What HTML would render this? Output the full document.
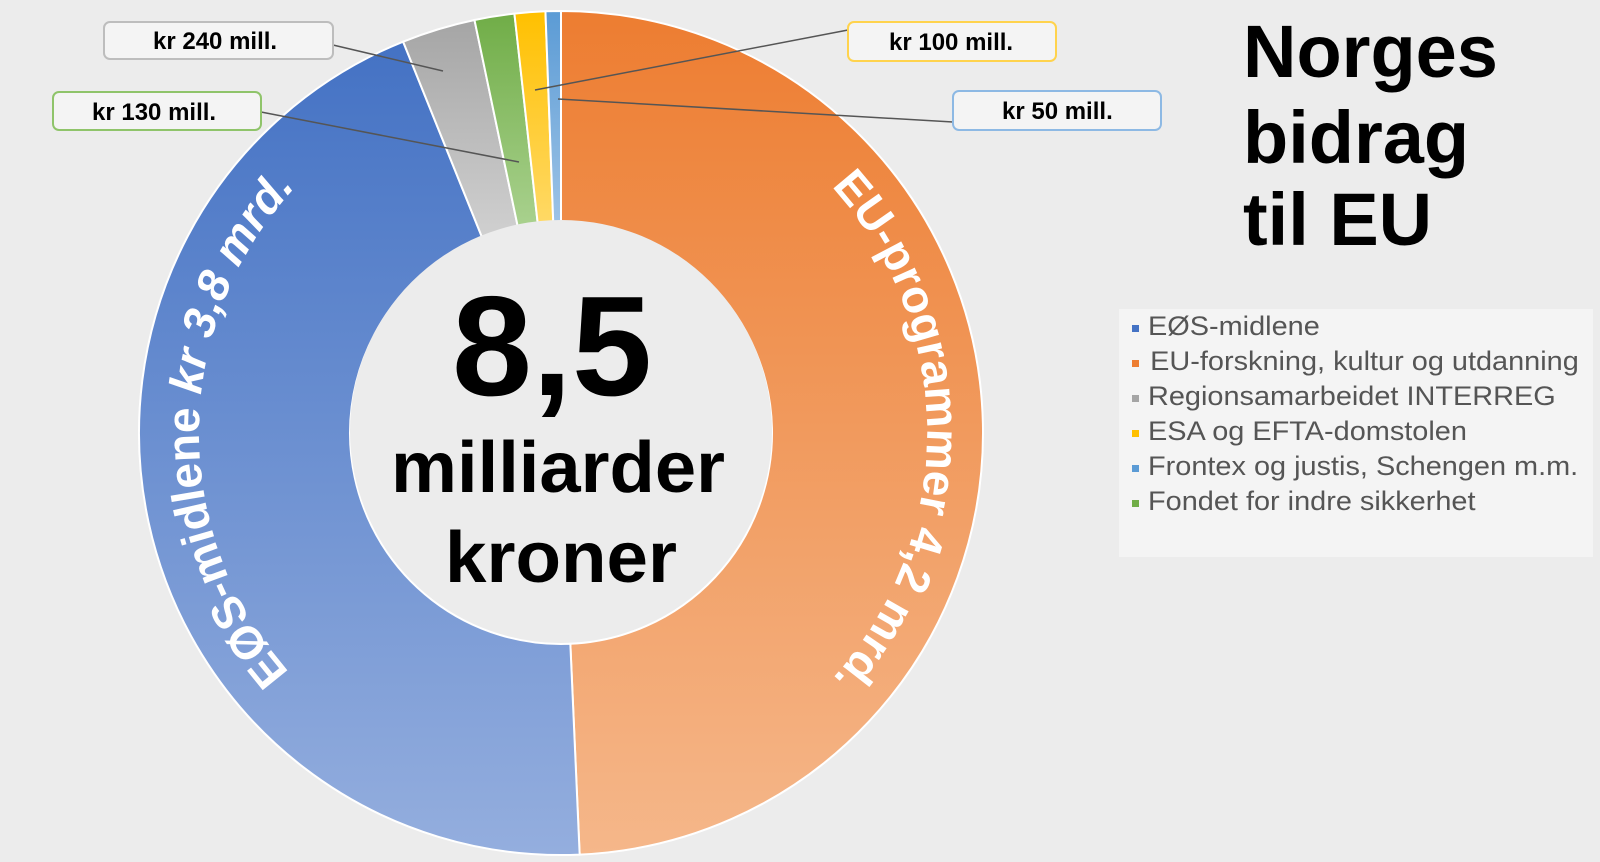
<!DOCTYPE html>
<html><head><meta charset="utf-8">
<style>
html,body{margin:0;padding:0;background:#ececec;}
svg{display:block;font-family:"Liberation Sans",Arial,sans-serif;}
</style></head>
<body>
<svg id="s" width="1600" height="862" viewBox="0 0 1600 862" xmlns="http://www.w3.org/2000/svg">
<defs>
<linearGradient id="gO" x1="0" y1="0" x2="0" y2="1"><stop offset="0" stop-color="#ED7D31"/><stop offset="1" stop-color="#F5B78A"/></linearGradient>
<linearGradient id="gB" x1="0" y1="0" x2="0" y2="1"><stop offset="0" stop-color="#4472C4"/><stop offset="1" stop-color="#94AEDE"/></linearGradient>
<linearGradient id="gG" x1="0" y1="0" x2="0" y2="1"><stop offset="0" stop-color="#A5A5A5"/><stop offset="1" stop-color="#D0D0D0"/></linearGradient>
<linearGradient id="gGr" x1="0" y1="0" x2="0" y2="1"><stop offset="0" stop-color="#70AD47"/><stop offset="1" stop-color="#A9D18E"/></linearGradient>
<linearGradient id="gY" x1="0" y1="0" x2="0" y2="1"><stop offset="0" stop-color="#FFC000"/><stop offset="1" stop-color="#FFD966"/></linearGradient>
<linearGradient id="gL" x1="0" y1="0" x2="0" y2="1"><stop offset="0" stop-color="#5B9BD5"/><stop offset="1" stop-color="#9DC3E6"/></linearGradient>
<path id="pL" d=""/>
<path id="pR" d=""/>
</defs>
<rect width="1600" height="862" fill="#ececec"/>
<g id="ring"></g>
<circle cx="561" cy="431" r="211" fill="#ececec"/>
<text x="552" y="395" font-size="142" font-weight="bold" text-anchor="middle" fill="#000" textLength="200" lengthAdjust="spacingAndGlyphs">8,5</text>
<text x="558" y="492" font-size="72" font-weight="bold" text-anchor="middle" fill="#000" textLength="334" lengthAdjust="spacingAndGlyphs">milliarder</text>
<text x="561" y="582" font-size="72" font-weight="bold" text-anchor="middle" fill="#000" textLength="232" lengthAdjust="spacingAndGlyphs">kroner</text>

<text font-size="46" font-weight="bold" fill="#fff"><textPath href="#pL" startOffset="4">EØS-midlene <tspan font-style="italic">kr 3,8 mrd.</tspan></textPath></text>
<text font-size="46" font-weight="bold" fill="#fff"><textPath href="#pR" startOffset="4">EU-programmer 4,2 mrd.</textPath></text>

<g stroke="#555" stroke-width="1.5" fill="none">
<line x1="333" y1="45" x2="443" y2="71"/>
<line x1="261" y1="112" x2="519" y2="162"/>
<line x1="848" y1="30" x2="535" y2="90"/>
<line x1="953" y1="122" x2="558" y2="99"/>
</g>
<g font-size="24" font-weight="bold" fill="#000">
<rect x="104" y="22" width="229" height="37" rx="6" fill="#f4f4f4" stroke="#bdbdbd" stroke-width="2"/>
<text x="153" y="49">kr 240 mill.</text>
<rect x="53" y="92" width="208" height="38" rx="6" fill="#f4f4f4" stroke="#8fc46a" stroke-width="2"/>
<text x="92" y="120">kr 130 mill.</text>
<rect x="848" y="22" width="208" height="39" rx="6" fill="#f4f4f4" stroke="#FFD34D" stroke-width="2"/>
<text x="889" y="50">kr 100 mill.</text>
<rect x="953" y="91" width="208" height="39" rx="6" fill="#f4f4f4" stroke="#8DB9E4" stroke-width="2"/>
<text x="1002" y="119">kr 50 mill.</text>
</g>

<g font-size="74" font-weight="bold" fill="#000">
<text x="1243" y="77">Norges</text>
<text x="1243" y="163">bidrag</text>
<text x="1243" y="245">til EU</text>
</g>

<rect x="1119" y="309" width="474" height="248" fill="#f4f4f4"/>
<rect x="1132" y="325" width="7" height="7" fill="#4472C4"/>
<rect x="1132" y="360" width="7" height="7" fill="#ED7D31"/>
<rect x="1132" y="395" width="7" height="7" fill="#A5A5A5"/>
<rect x="1132" y="430" width="7" height="7" fill="#FFC000"/>
<rect x="1132" y="465" width="7" height="7" fill="#5B9BD5"/>
<rect x="1132" y="500" width="7" height="7" fill="#70AD47"/>
<g font-size="27" fill="#555" transform="translate(1148,0) scale(1.07,1)">
<text x="0" y="335">EØS-midlene</text>
<text x="2" y="370">EU-forskning, kultur og utdanning</text>
<text x="0" y="405">Regionsamarbeidet INTERREG</text>
<text x="0" y="440">ESA og EFTA-domstolen</text>
<text x="0" y="475">Frontex og justis, Schengen m.m.</text>
<text x="0" y="510">Fondet for indre sikkerhet</text>
</g>
</svg>
<script>
(function(){
var cx=561,cy=433,R=422,r=211,ns="http://www.w3.org/2000/svg";
function pt(rad,a){a=a*Math.PI/180;return [cx+rad*Math.cos(a),cy+rad*Math.sin(a)];}
function seg(a1,a2){var p1=pt(R,a1),p2=pt(R,a2),p3=pt(r,a2),p4=pt(r,a1),l=(a2-a1)>180?1:0;
return "M"+p1+" A"+R+","+R+" 0 "+l+" 1 "+p2+" L"+p3+" A"+r+","+r+" 0 "+l+" 0 "+p4+" Z";}
var tot=8.52,vals=[[4.2,"gO"],[3.8,"gB"],[0.24,"gG"],[0.13,"gGr"],[0.1,"gY"],[0.05,"gL"]],a=-90,g=document.getElementById("ring");
vals.forEach(function(v){var d=v[0]/tot*360;var p=document.createElementNS(ns,"path");p.setAttribute("d",seg(a,a+d));p.setAttribute("fill","url(#"+v[1]+")");p.setAttribute("stroke","#fff");p.setAttribute("stroke-width","2");g.appendChild(p);a+=d;});
function arc(rad,a1,a2){var p1=pt(rad,a1),p2=pt(rad,a2);return "M"+p1+" A"+rad+","+rad+" 0 0 1 "+p2;}
document.getElementById("pL").setAttribute("d",arc(362,138,240));
document.getElementById("pR").setAttribute("d",arc(366,-43,55));
})();
</script>
</body></html>
